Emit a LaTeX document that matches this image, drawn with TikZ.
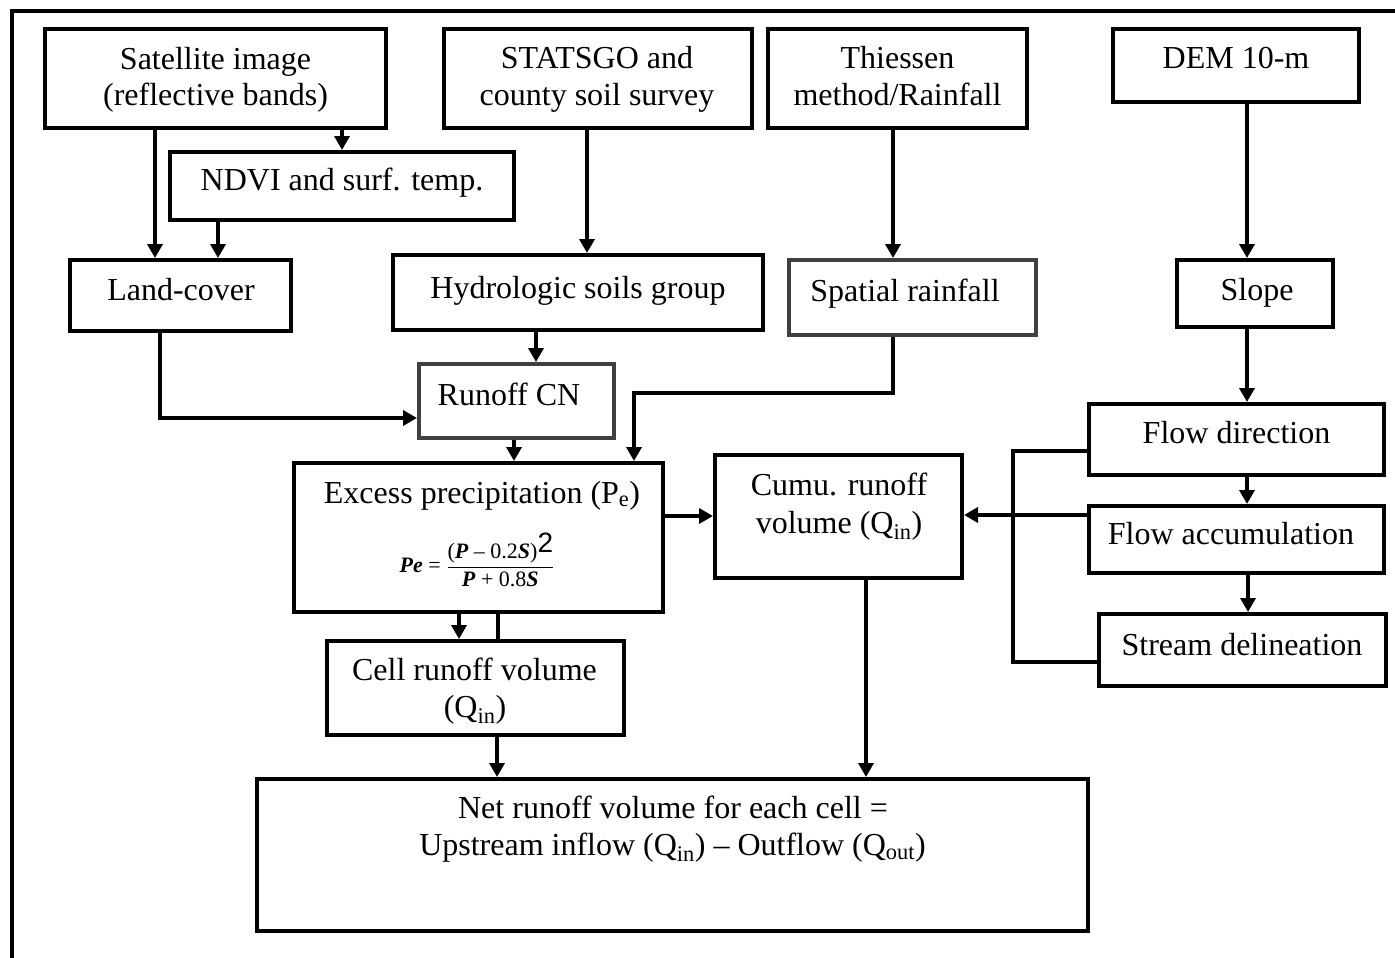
\documentclass[tikz,border=0pt]{standalone}
\usepackage{fontspec}
\setmainfont{Liberation Serif}
\newfontfamily\sansfnt{Liberation Sans}
\usetikzlibrary{arrows.meta}
\begin{document}
\begin{tikzpicture}[x=1pt,y=-1pt,
  box/.style={draw=black, line width=4pt, rectangle, inner sep=0pt},
  gbox/.style={box, draw=black!75},
  txt/.style={inner sep=0pt, anchor=base, font=\fontsize{32}{37}\selectfont},
  arr/.style={line width=3.5pt, -{Triangle[length=14pt,width=15pt]}},
  ln/.style={line width=3.5pt},
  frame/.style={line width=4pt}
]
\useasboundingbox (0,0) rectangle (1395,958);
\draw[frame] (11.5,958) -- (11.5,11.5) -- (1395,11.5);

% boxes
\node[box, minimum width=341pt, minimum height=99pt] (sat) at (215.5,78.5) {};
\node[box, minimum width=344pt, minimum height=68pt] (ndvi) at (342,186) {};
\node[box, minimum width=221pt, minimum height=71pt] (lc) at (180.5,295.5) {};
\node[box, minimum width=308pt, minimum height=99pt] (stat) at (598,78.5) {};
\node[box, minimum width=259pt, minimum height=99pt] (thie) at (897.5,78.5) {};
\node[box, minimum width=246pt, minimum height=73pt] (dem) at (1236,65.5) {};
\node[box, minimum width=370pt, minimum height=75pt] (hydro) at (578,292.5) {};
\node[gbox, minimum width=247pt, minimum height=75pt] (spat) at (912.5,297.5) {};
\node[box, minimum width=156pt, minimum height=67pt] (slope) at (1255,293.5) {};
\node[gbox, minimum width=195pt, minimum height=74pt] (runoff) at (516.5,401) {};
\node[box, minimum width=369pt, minimum height=149pt] (excess) at (478.5,537.5) {};
\node[box, minimum width=247pt, minimum height=123pt] (cumu) at (838.5,516.5) {};
\node[box, minimum width=295pt, minimum height=71pt] (fdir) at (1236.5,439.5) {};
\node[box, minimum width=295pt, minimum height=67pt] (facc) at (1236.5,539.5) {};
\node[box, minimum width=287pt, minimum height=72pt] (strm) at (1242.5,650) {};
\node[box, minimum width=297pt, minimum height=94pt] (cell) at (475.5,688) {};
\node[box, minimum width=831pt, minimum height=152pt] (net) at (672.5,855) {};

% texts
\node[txt] (t1) at (215.5,70) {Satellite image};
\node[txt] (t2) at (215.5,106) {(reflective bands)};
\node[txt] (t3) at (342,190) {NDVI and surf. temp.};
\node[txt] (t4) at (181,300) {Land-cover};
\node[txt] (t5) at (597,69) {STATSGO and};
\node[txt] (t6) at (597,106) {county soil survey};
\node[txt] (t7) at (897.5,69) {Thiessen};
\node[txt] (t8) at (897.5,106) {method/Rainfall};
\node[txt] (t9) at (1236,69) {DEM 10-m};
\node[txt] (t10) at (578,298) {Hydrologic soils group};
\node[txt] (t11) at (905,301) {Spatial rainfall};
\node[txt] (t12) at (1257,300) {Slope};
\node[txt] (t13) at (509,405) {Runoff CN};
\node[txt] (t14) at (482,503) {Excess precipitation (P\textsubscript{e})};
\node[inner sep=0pt] (form) at (477,560) {\fontsize{22}{26}\selectfont\textbf{\textit{Pe}} = $\displaystyle\frac{\mbox{(\textbf{\textit{P}} – 0.2\textbf{\textit{S}})\raisebox{6pt}{\sansfnt\fontsize{28}{28}\selectfont 2}}}{\mbox{\textbf{\textit{P}} + 0.8\textbf{\textit{S}}}}$};
\node[txt] (t15) at (839,495) {Cumu. runoff};
\node[txt] (t16) at (839,533) {volume (Q\textsubscript{in})};
\node[txt] (t17) at (1236.5,443) {Flow direction};
\node[txt] (t18) at (1231,544) {Flow accumulation};
\node[txt] (t19) at (1242,655) {Stream delineation};
\node[txt] (t20) at (474.5,680) {Cell runoff volume};
\node[txt] (t21) at (475,717) {(Q\textsubscript{in})};
\node[txt] (t22) at (673,818) {Net runoff volume for each cell =};
\node[txt] (t23) at (672.5,855) {Upstream inflow (Q\textsubscript{in}) – Outflow (Q\textsubscript{out})};

% connectors
\draw[arr] (sat.south -| 155,0) -- (lc.north -| 155,0);
\draw[arr] (sat.south -| 342,0) -- (ndvi.north -| 342,0);
\draw[arr] (ndvi.south -| 218,0) -- (lc.north -| 218,0);
\draw[arr] (stat.south -| 587,0) -- (hydro.north -| 587,0);
\draw[arr] (thie.south -| 893,0) -- (spat.north -| 893,0);
\draw[arr] (dem.south -| 1247,0) -- (slope.north -| 1247,0);
\draw[arr] (hydro.south -| 536,0) -- (runoff.north -| 536,0);
\draw[arr] (lc.south -| 160,0) |- (runoff.west |- 0,418);
\draw[arr] (spat.south -| 893,0) |- (634,393) -- (excess.north -| 634,0);
\draw[arr] (runoff.south -| 514,0) -- (excess.north -| 514,0);
\draw[arr] (excess.east |- 0,516) -- (cumu.west |- 0,516);
\draw[arr] (excess.south -| 459,0) -- (cell.north -| 459,0);
\draw[ln] (excess.south -| 498,0) -- (cell.north -| 498,0);
\draw[arr] (cell.south -| 497,0) -- (net.north -| 497,0);
\draw[arr] (cumu.south -| 866,0) -- (net.north -| 866,0);
\draw[arr] (slope.south -| 1247,0) -- (fdir.north -| 1247,0);
\draw[arr] (fdir.south -| 1247,0) -- (facc.north -| 1247,0);
\draw[arr] (facc.south -| 1248,0) -- (strm.north -| 1248,0);
\draw[ln] (fdir.west |- 0,451) -- (1013,451) -- (1013,662) -- (strm.west |- 0,662);
\draw[arr] (facc.west |- 0,515) -- (cumu.east |- 0,515);
\end{tikzpicture}
\end{document}
